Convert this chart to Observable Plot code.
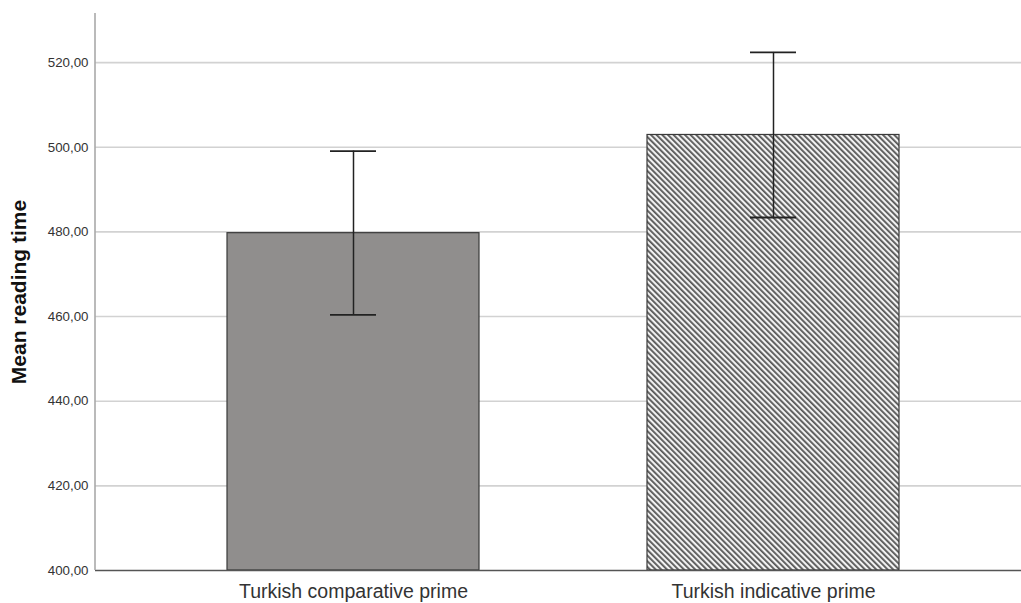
<!DOCTYPE html>
<html><head><meta charset="utf-8">
<script src="https://cdn.jsdelivr.net/npm/d3@7"></script>
<script src="https://cdn.jsdelivr.net/npm/@observablehq/plot@0.6"></script>
<style>body{margin:0;background:#fff}</style>
</head><body><div id="chart"></div>
<script>
const categories = ["Turkish comparative prime", "Turkish indicative prime"];
const means = [479.7, 502.9];
const lower = [460.4, 483.4];
const upper = [499.1, 522.4];
const yTicks = [400, 420, 440, 460, 480, 500, 520];
const yLabel = "Mean reading time";
const data = categories.map((c, i) => ({cat: c, mean: means[i], lo: lower[i], hi: upper[i]}));

const leftLine = (index, scales, values, dims) => {
  const g = d3.create("svg:line")
    .attr("x1", dims.marginLeft).attr("x2", dims.marginLeft)
    .attr("y1", dims.marginTop).attr("y2", dims.height - dims.marginBottom)
    .attr("stroke", "#a9a9a9").attr("stroke-width", 1.6);
  return g.node();
};

const chart = Plot.plot({
  width: 1021, height: 603,
  marginLeft: 95, marginRight: 0, marginTop: 13, marginBottom: 33,
  style: {fontFamily: "'Liberation Sans', Arial, sans-serif", background: "#fff"},
  x: {domain: categories, paddingInner: 0.4, paddingOuter: 0.3, align: 0.52, label: null},
  y: {domain: [400, 531.6], label: null},
  marks: [
    Plot.gridY(yTicks.slice(1), {stroke: "#d2d2d2", strokeOpacity: 1, strokeWidth: 1.6}),
    Plot.axisY(yTicks, {tickSize: 0, tickPadding: 7, tickFormat: d => d3.format(".2f")(d).replace(".", ","), fontSize: 13.3, fill: "#333", label: null}),
    Plot.axisX({tickSize: 0, tickPadding: 14, fontSize: 19.5, fill: "#333", label: null}),
    Plot.barY(data, {x: "cat", y1: 400, y2: "mean", filter: (d, i) => i === 0, fill: "#908e8d", stroke: "#3a3a3a", strokeWidth: 1.2}),
    Plot.barY(data, {x: "cat", y1: 400, y2: "mean", filter: (d, i) => i === 1, fill: "url(#hatch)", stroke: "#3a3a3a", strokeWidth: 1.2}),
    Plot.ruleY([400], {stroke: "#555", strokeWidth: 1.3}),
    leftLine,
    Plot.ruleX(data, {x: "cat", y1: "lo", y2: "hi", stroke: "#222", strokeWidth: 1.5}),
    Plot.tickY(data, {x: "cat", y: "hi", insetLeft: 103, insetRight: 103, stroke: "#222", strokeWidth: 1.8}),
    Plot.tickY(data, {x: "cat", y: "lo", insetLeft: 103, insetRight: 103, stroke: "#222", strokeWidth: 1.8}),
    Plot.text([yLabel], {frameAnchor: "left", textAnchor: "middle", dx: -76, rotate: -90, fontSize: 21, fontWeight: "bold", fill: "#111"})
  ]
});

const svg = d3.select(chart);
const defs = svg.insert("defs", ":first-child");
const p = defs.append("pattern").attr("id", "hatch").attr("patternUnits", "userSpaceOnUse")
  .attr("width", 4).attr("height", 4).attr("patternTransform", "rotate(-45)");
p.append("rect").attr("width", 4).attr("height", 4).attr("fill", "#f2f2f2");
p.append("rect").attr("width", 1.8).attr("height", 4).attr("fill", "#555");

document.getElementById("chart").appendChild(chart);
</script>
</body></html>
